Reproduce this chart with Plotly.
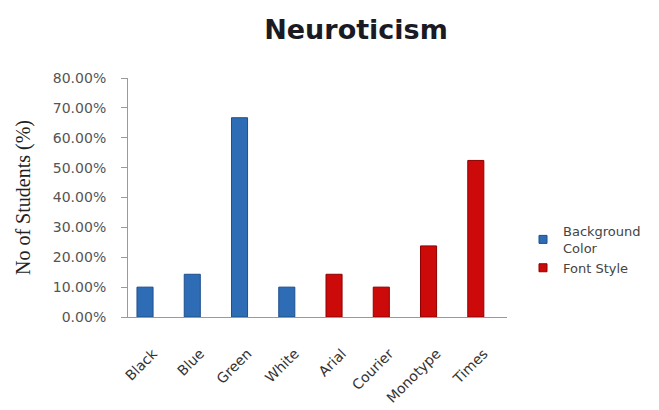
import plotly.graph_objects as go

# Share of students (fraction) per category
bg_categories = ["Black", "Blue", "Green", "White"]
bg_values = [0.100, 0.143, 0.667, 0.100]

font_categories = ["Arial", "Courier", "Monotype", "Times"]
font_values = [0.143, 0.100, 0.238, 0.524]

all_categories = bg_categories + font_categories
y_ticks = [0.0, 0.1, 0.2, 0.3, 0.4, 0.5, 0.6, 0.7, 0.8]

BLUE, BLUE_EDGE = "#2E6DB6", "#1D4F8C"
RED, RED_EDGE = "#CC0A0A", "#8E0000"
SANS = "DejaVu Sans, sans-serif"

fig = go.Figure()
fig.add_trace(go.Bar(
    x=bg_categories, y=bg_values, name="Background Color",
    width=0.34, showlegend=False,
    marker=dict(color=BLUE, line=dict(color=BLUE_EDGE, width=1)),
))
fig.add_trace(go.Bar(
    x=font_categories, y=font_values, name="Font Style",
    width=0.34, showlegend=False,
    marker=dict(color=RED, line=dict(color=RED_EDGE, width=1)),
))

# Legend entries with small square swatches
fig.add_trace(go.Scatter(
    x=[None], y=[None], mode="markers", name="Background<br>Color",
    marker=dict(symbol="square", size=8, color=BLUE, line=dict(color=BLUE_EDGE, width=1)),
))
fig.add_trace(go.Scatter(
    x=[None], y=[None], mode="markers", name="Font Style",
    marker=dict(symbol="square", size=8, color=RED, line=dict(color=RED_EDGE, width=1)),
))

fig.update_layout(
    width=659, height=410,
    margin=dict(l=128, r=152, t=78, b=93, autoexpand=False),
    paper_bgcolor="white", plot_bgcolor="white",
    barmode="overlay",
    font=dict(family=SANS, color="#444"),
    title=dict(
        text="<b>Neuroticism</b>",
        x=356 / 659, xanchor="center", xref="container",
        y=1 - 30 / 410, yanchor="middle", yref="container",
        font=dict(size=27, color="#1a1a24", family=SANS),
    ),
    xaxis=dict(
        type="category", categoryorder="array", categoryarray=all_categories,
        range=[-0.36, 7.66], automargin=False,
        showline=True, linecolor="#9a9a9a", linewidth=1,
        showgrid=False, ticks="", tickangle=-45,
        ticklabelstandoff=22, ticklabelshift=8,
        tickfont=dict(size=14, color="#333", family=SANS),
    ),
    yaxis=dict(
        range=[0, 0.8], tickvals=y_ticks, tickformat=".2%", automargin=False,
        showline=True, linecolor="#9a9a9a", linewidth=1,
        showgrid=False, ticks="outside", ticklen=6, tickcolor="#9a9a9a",
        ticklabelstandoff=12,
        tickfont=dict(size=14, color="#555", family=SANS),
        title=dict(text="No of Students (%)", standoff=16,
                   font=dict(family="Liberation Serif, serif", size=20, color="#222")),
    ),
    legend=dict(
        x=523 / 659, xref="container", xanchor="left",
        y=1 - 216 / 410, yref="container", yanchor="top",
        font=dict(size=13, color="#444", family=SANS),
        itemwidth=30, tracegroupgap=2,
        bgcolor="rgba(0,0,0,0)",
    ),
)

fig.write_html("out.html")
